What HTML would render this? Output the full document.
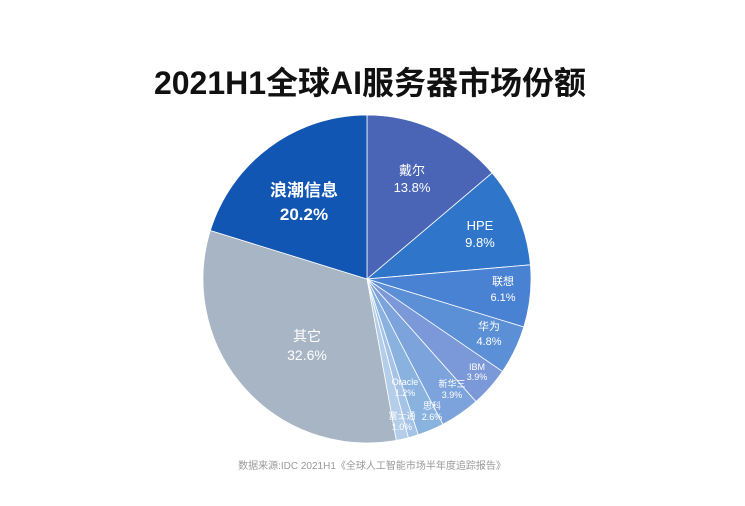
<!DOCTYPE html>
<html><head><meta charset="utf-8"><style>
body{margin:0;background:#fff;width:745px;height:501px;overflow:hidden;font-family:"Liberation Sans","Noto Sans CJK SC",sans-serif}
</style></head><body>
<svg id="s" width="745" height="501" xmlns="http://www.w3.org/2000/svg">
<text x="370" y="94" text-anchor="middle" font-size="32" font-weight="bold" fill="#111" font-family="Liberation Sans,Noto Sans CJK SC,sans-serif">2021H1全球AI服务器市场份额</text>
<g id="pie"></g>
<g font-family="Liberation Sans,Noto Sans CJK SC,sans-serif" fill="#fff" text-anchor="middle">
<text x="412" y="175" font-size="13">戴尔</text><text x="412" y="192" font-size="13">13.8%</text>
<text x="480" y="230" font-size="13">HPE</text><text x="480" y="247" font-size="13">9.8%</text>
<text x="503" y="285" font-size="11">联想</text><text x="503" y="301" font-size="11">6.1%</text>
<text x="489" y="330" font-size="11">华为</text><text x="489" y="345" font-size="11">4.8%</text>
<text x="477" y="370" font-size="9">IBM</text><text x="477" y="380" font-size="9">3.9%</text>
<text x="452" y="387" font-size="9">新华三</text><text x="452" y="398" font-size="9">3.9%</text>
<text x="432" y="409" font-size="9">思科</text><text x="432" y="420" font-size="9">2.6%</text>
<text x="405" y="385" font-size="9">Oracle</text><text x="405" y="396" font-size="9">1.2%</text>
<text x="402" y="419" font-size="9">富士通</text><text x="402" y="430" font-size="9">1.0%</text>
<text x="307" y="341" font-size="14">其它</text><text x="307" y="360" font-size="14">32.6%</text>
<text x="304" y="196" font-size="17" font-weight="bold">浪潮信息</text><text x="304" y="220" font-size="17" font-weight="bold">20.2%</text>
</g>
<text x="372" y="469" text-anchor="middle" font-size="10" fill="#999" font-family="Liberation Sans,Noto Sans CJK SC,sans-serif">数据来源:IDC 2021H1《全球人工智能市场半年度追踪报告》</text>
</svg>
<script>
var d=[[13.8,"#4a64b6"],[9.8,"#2f76cb"],[6.1,"#4a82d3"],[4.8,"#5b90d6"],[3.9,"#7b98d8"],[3.9,"#7da3dc"],[2.6,"#89b2df"],[1.0,"#a4c3e6"],[1.2,"#b4cde9"],[32.6,"#a7b5c5"],[20.2,"#1256b3"]];
var cx=367,cy=279,r=164,a=-Math.PI/2,g=document.getElementById("pie"),h="";
var tot=d.reduce((s,x)=>s+x[0],0);
d.forEach(function(x){var b=a+x[0]/tot*2*Math.PI;var l=(b-a)>Math.PI?1:0;
h+='<path d="M'+cx+','+cy+'L'+(cx+r*Math.cos(a))+','+(cy+r*Math.sin(a))+'A'+r+','+r+' 0 '+l+' 1 '+(cx+r*Math.cos(b))+','+(cy+r*Math.sin(b))+'Z" fill="'+x[1]+'" stroke="#fff" stroke-width="0.8"/>';a=b;});
g.innerHTML=h;
</script>
</body></html>
